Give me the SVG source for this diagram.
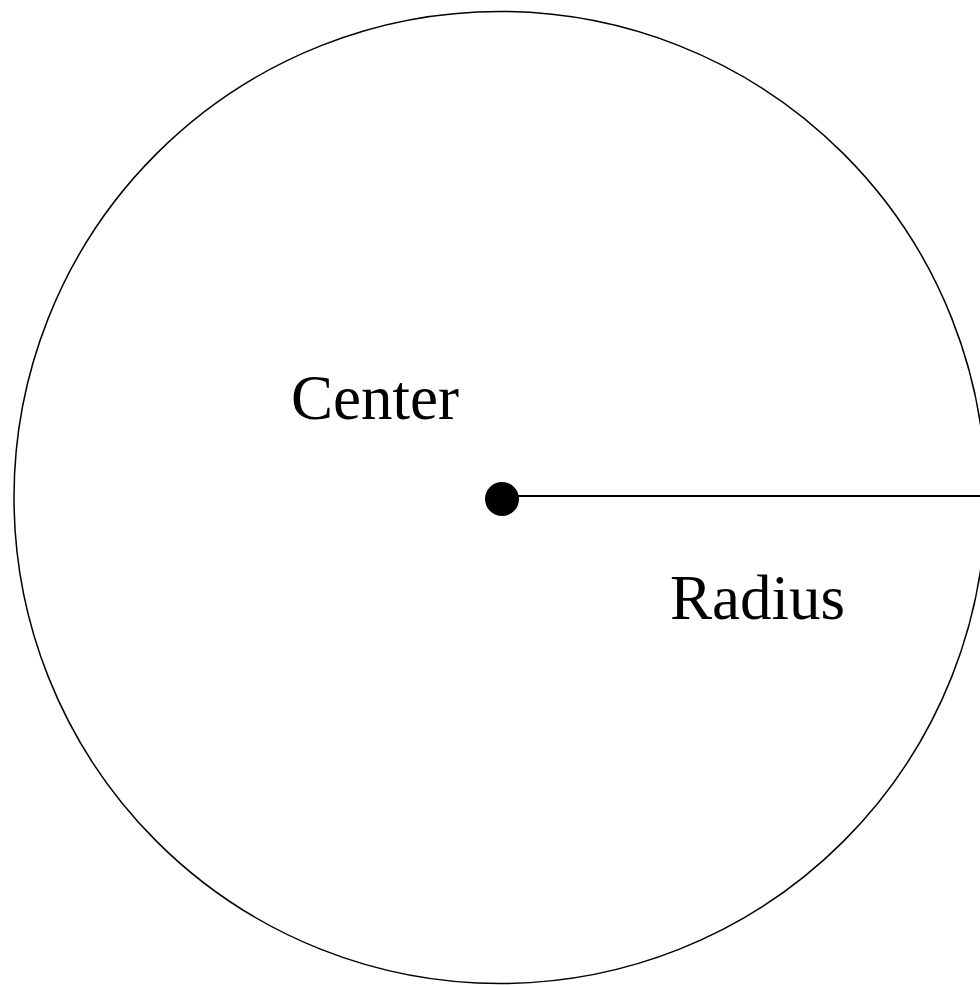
<svg xmlns="http://www.w3.org/2000/svg" width="980" height="986" viewBox="0 0 980 986">
<style>
.lbl{font-family:"Liberation Serif","Times New Roman",serif;font-size:63px;fill:#000}
</style>
<rect width="980" height="986" fill="#fff"/>
<g id="circle"><circle cx="500" cy="497.5" r="486" fill="none" stroke="#000" stroke-width="1.5"/></g>
<g id="connectors"><line x1="502" y1="496" x2="980" y2="496" stroke="#000" stroke-width="1.8"/></g>
<g id="center"><circle cx="502" cy="499" r="17" fill="#000"/><text class="lbl" x="291" y="419">Center</text></g>
<g id="radius"><text class="lbl" x="670" y="619">Radius</text></g>
</svg>
